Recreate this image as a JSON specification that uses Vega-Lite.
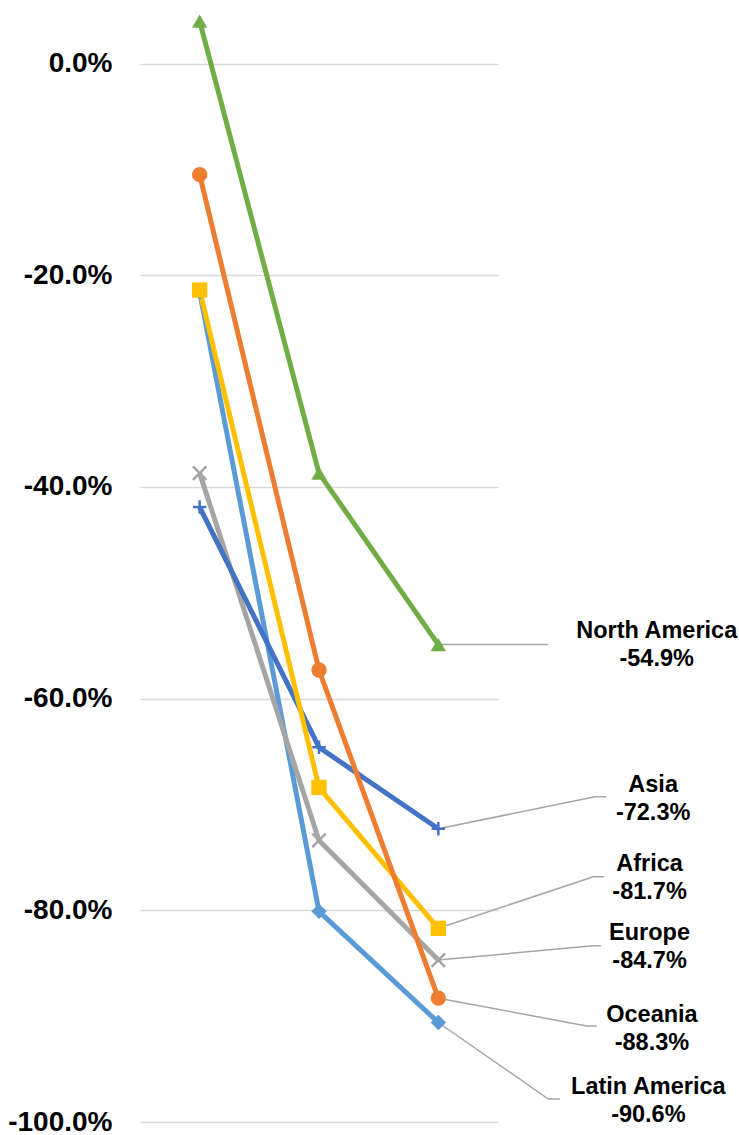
{
  "$schema": "https://vega.github.io/schema/vega-lite/v6.json",
  "autosize": {"type": "none"},
  "width": 358,
  "height": 1122,
  "padding": {"left": 140, "top": 0, "right": 241, "bottom": 13},
  "background": "white",
  "config": {"view": {"stroke": null}},
  "datasets": {
    "series": [
      {"region": "Latin America", "step": 1, "value": -21.6},
      {"region": "Latin America", "step": 2, "value": -80.1},
      {"region": "Latin America", "step": 3, "value": -90.6},
      {"region": "Europe", "step": 1, "value": -38.7},
      {"region": "Europe", "step": 2, "value": -73.4},
      {"region": "Europe", "step": 3, "value": -84.7},
      {"region": "Asia", "step": 1, "value": -41.9},
      {"region": "Asia", "step": 2, "value": -64.6},
      {"region": "Asia", "step": 3, "value": -72.3},
      {"region": "Africa", "step": 1, "value": -21.4},
      {"region": "Africa", "step": 2, "value": -68.4},
      {"region": "Africa", "step": 3, "value": -81.7},
      {"region": "Oceania", "step": 1, "value": -10.5},
      {"region": "Oceania", "step": 2, "value": -57.3},
      {"region": "Oceania", "step": 3, "value": -88.3},
      {"region": "North America", "step": 1, "value": 4.0},
      {"region": "North America", "step": 2, "value": -38.7},
      {"region": "North America", "step": 3, "value": -54.9}
    ],
    "leaders": [
      {"region": "North America", "order": 1, "x": 3, "y": -54.9},
      {"region": "North America", "order": 2, "x": 3.919, "y": -54.9},
      {"region": "Asia", "order": 1, "x": 3, "y": -72.3},
      {"region": "Asia", "order": 2, "x": 4.313, "y": -69.27},
      {"region": "Asia", "order": 3, "x": 4.405, "y": -69.27},
      {"region": "Africa", "order": 1, "x": 3, "y": -81.7},
      {"region": "Africa", "order": 2, "x": 4.299, "y": -76.83},
      {"region": "Africa", "order": 3, "x": 4.389, "y": -76.83},
      {"region": "Europe", "order": 1, "x": 3, "y": -84.7},
      {"region": "Europe", "order": 2, "x": 4.296, "y": -83.34},
      {"region": "Europe", "order": 3, "x": 4.361, "y": -83.34},
      {"region": "Oceania", "order": 1, "x": 3, "y": -88.3},
      {"region": "Oceania", "order": 2, "x": 4.243, "y": -90.93},
      {"region": "Oceania", "order": 3, "x": 4.327, "y": -90.93},
      {"region": "Latin America", "order": 1, "x": 3, "y": -90.6},
      {"region": "Latin America", "order": 2, "x": 3.922, "y": -97.83},
      {"region": "Latin America", "order": 3, "x": 4.02, "y": -97.83}
    ],
    "labels": [
      {"region": "North America", "x": 4.83, "y": -54.98, "text": "North America\n-54.9%"},
      {"region": "Asia", "x": 4.80, "y": -69.44, "text": "Asia\n-72.3%"},
      {"region": "Africa", "x": 4.77, "y": -76.95, "text": "Africa\n-81.7%"},
      {"region": "Europe", "x": 4.77, "y": -83.51, "text": "Europe\n-84.7%"},
      {"region": "Oceania", "x": 4.79, "y": -91.21, "text": "Oceania\n-88.3%"},
      {"region": "Latin America", "x": 4.76, "y": -97.97, "text": "Latin America\n-90.6%"}
    ]
  },
  "layer": [
    {
      "data": {"name": "leaders"},
      "mark": {"type": "line", "color": "#A5A5A5", "strokeWidth": 1.5},
      "encoding": {
        "x": {"field": "x", "type": "quantitative", "scale": {"domain": [0.5, 3.5], "nice": false, "zero": false}, "axis": null},
        "y": {"field": "y", "type": "quantitative", "scale": {"domain": [-100, 6], "nice": false, "zero": false},
          "axis": {
            "values": [-100, -80, -60, -40, -20, 0],
            "labelExpr": "(datum.value < 0 ? '-' : '') + format(abs(datum.value), '.1f') + '%'",
            "grid": true, "gridColor": "#D9D9D9", "gridWidth": 1.5,
            "domain": false, "ticks": false, "labelPadding": 28,
            "labelFont": "Liberation Sans", "labelFontWeight": "bold", "labelFontSize": 28,
            "labelColor": "#000000", "title": null
          }
        },
        "detail": {"field": "region", "type": "nominal"},
        "order": {"field": "order", "type": "quantitative"}
      }
    },
    {
      "data": {"name": "series"},
      "mark": {"type": "line", "strokeWidth": 5},
      "encoding": {
        "x": {"field": "step", "type": "quantitative"},
        "y": {"field": "value", "type": "quantitative"},
        "color": {"field": "region", "type": "nominal", "legend": null,
          "scale": {"domain": ["Latin America", "Europe", "Asia", "Africa", "Oceania", "North America"],
                    "range": ["#5B9BD5", "#A5A5A5", "#4472C4", "#FFC000", "#ED7D31", "#70AD47"]}}
      }
    },
    {
      "data": {"name": "series"},
      "transform": [{"filter": "datum.region !== 'Asia' && datum.region !== 'Europe'"}],
      "mark": {"type": "point", "filled": true, "opacity": 1, "size": 235},
      "encoding": {
        "x": {"field": "step", "type": "quantitative"},
        "y": {"field": "value", "type": "quantitative"},
        "color": {"field": "region", "type": "nominal", "legend": null},
        "shape": {"field": "region", "type": "nominal", "legend": null,
          "scale": {"domain": ["Latin America", "Europe", "Asia", "Africa", "Oceania", "North America"],
                    "range": ["diamond", "M-1,-1L1,1M-1,1L1,-1", "M-1,0L1,0M0,-1L0,1", "square", "circle", "triangle-up"]}}
      }
    },
    {
      "data": {"name": "series"},
      "transform": [{"filter": "datum.region === 'Asia' || datum.region === 'Europe'"}],
      "mark": {"type": "point", "filled": false, "opacity": 1, "size": 180, "strokeWidth": 2.5},
      "encoding": {
        "x": {"field": "step", "type": "quantitative"},
        "y": {"field": "value", "type": "quantitative"},
        "color": {"field": "region", "type": "nominal", "legend": null},
        "shape": {"field": "region", "type": "nominal", "legend": null}
      }
    },
    {
      "data": {"name": "labels"},
      "mark": {"type": "text", "align": "center", "baseline": "middle", "lineBreak": "\n", "dy": -14,
               "font": "Liberation Sans", "fontWeight": "bold", "fontSize": 23.5, "lineHeight": 28, "color": "#000000"},
      "encoding": {
        "x": {"field": "x", "type": "quantitative"},
        "y": {"field": "y", "type": "quantitative"},
        "text": {"field": "text", "type": "nominal"}
      }
    }
  ]
}
